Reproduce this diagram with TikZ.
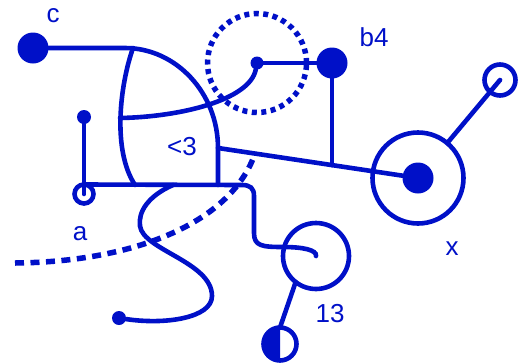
\documentclass[tikz,border=0pt]{standalone}
\usepackage{fontspec}
\setmainfont{Liberation Sans}
\usetikzlibrary{calc}
\definecolor{ink}{RGB}{0,16,200}

\begin{document}
\begin{tikzpicture}[
        x=1pt, y=-1pt,
        dot/.style={circle, fill=ink, inner sep=0pt, outer sep=0pt},
        ring/.style={circle, draw=ink, line width=4.6pt, inner sep=0pt, outer sep=0pt},
        tag/.style={text=ink, inner sep=0pt, font=\fontsize{26}{28}\selectfont},
        wire/.style={draw=ink, line width=4.6pt, line cap=round},
        dots/.style={draw=ink, line width=5.5pt, dash pattern=on 9pt off 6.5pt}
    ]
        \useasboundingbox (0,0) rectangle (521,362);

        \node[dot, minimum size=31pt] (c) at (33,48) {};
        \node[dot, minimum size=31pt] (b4) at (332,63) {};
        \node[dot, minimum size=13pt] (hub) at (257,63) {};
        \node[ring, minimum size=99pt, line width=5.5pt, dash pattern=on 5pt off 4.5pt] (halo) at (hub) {};
        \node[ring, minimum size=91pt] (x) at (418,178) {};
        \node[dot, minimum size=31pt] (xdot) at (x) {};
        \node[ring, minimum size=31pt] (xo) at (500,80) {};
        \node[ring, minimum size=19pt] (a) at (84,194) {};
        \node[dot, minimum size=14pt] (pin) at (84,117) {};
        \node[ring, minimum size=66pt] (n13) at (316,256) {};
        \node[ring, minimum size=33pt] (half) at (280,344) {};
        \node[dot, minimum size=14pt] (tail) at (119,318) {};
        \fill[ink] (half.north) arc[start angle=90, end angle=270, radius=16.5pt] -- cycle;

        \coordinate (bend) at (125,48);
        \coordinate (k) at (218,148);
        \coordinate (floor) at (218,185);
        \coordinate (top) at (133,48);
        \coordinate (foot) at (135,185);
        \coordinate (mid) at (120,118);
        \coordinate (sq) at (173,185);
        \coordinate (far) at (15,263);
        \coordinate (j) at ($(k)!0.57!(xdot)$);
        \coordinate (nick) at ($(k)!0.185!(xdot)$);

        % frame
        \draw[wire] (c) -- (bend) .. controls (176,48) and (218,93) .. (k) -- (floor);
        \draw[wire] (top) .. controls (120,85) and (112,150) .. (foot);
        \draw[wire] (mid) .. controls (180,117) and (250,100) .. (hub);
        \draw[wire] (hub) -- (b4);
        \draw[wire] (b4) -- (b4 |- j);
        \draw[wire] (k) -- (xdot);
        \draw[wire] (x) -- (xo.center);
        \draw[wire] (pin) -- (a.center);
        \draw[wire] (a.north) -- (242,185) .. controls (250,185) and (254,188) .. (254,196)
            -- (254,233) .. controls (254,246) and (262,247) .. (283,247)
            .. controls (303,247) and (317,250) .. (n13.center);
        \draw[wire] (sq) .. controls (148,196) and (138,212) .. (140,226)
            .. controls (143,250) and (212,262) .. (212,296)
            .. controls (212,318) and (165,325) .. (tail);
        \draw[wire] (n13.232) -- (half.north);
        \draw[dots] (far) .. controls (130,262) and (230,225) .. (nick);

        % labels
        \node[tag] (lc) at (53,16) {c};
        \node[tag] (lb4) at (374,37) {b4};
        \node[tag] (l3) at (182,147) {<3};
        \node[tag] (la) at (80,234) {a};
        \node[tag] (lx) at (452,249) {x};
        \node[tag] (l13) at (330,314) {13};
    \end{tikzpicture}
\end{document}
